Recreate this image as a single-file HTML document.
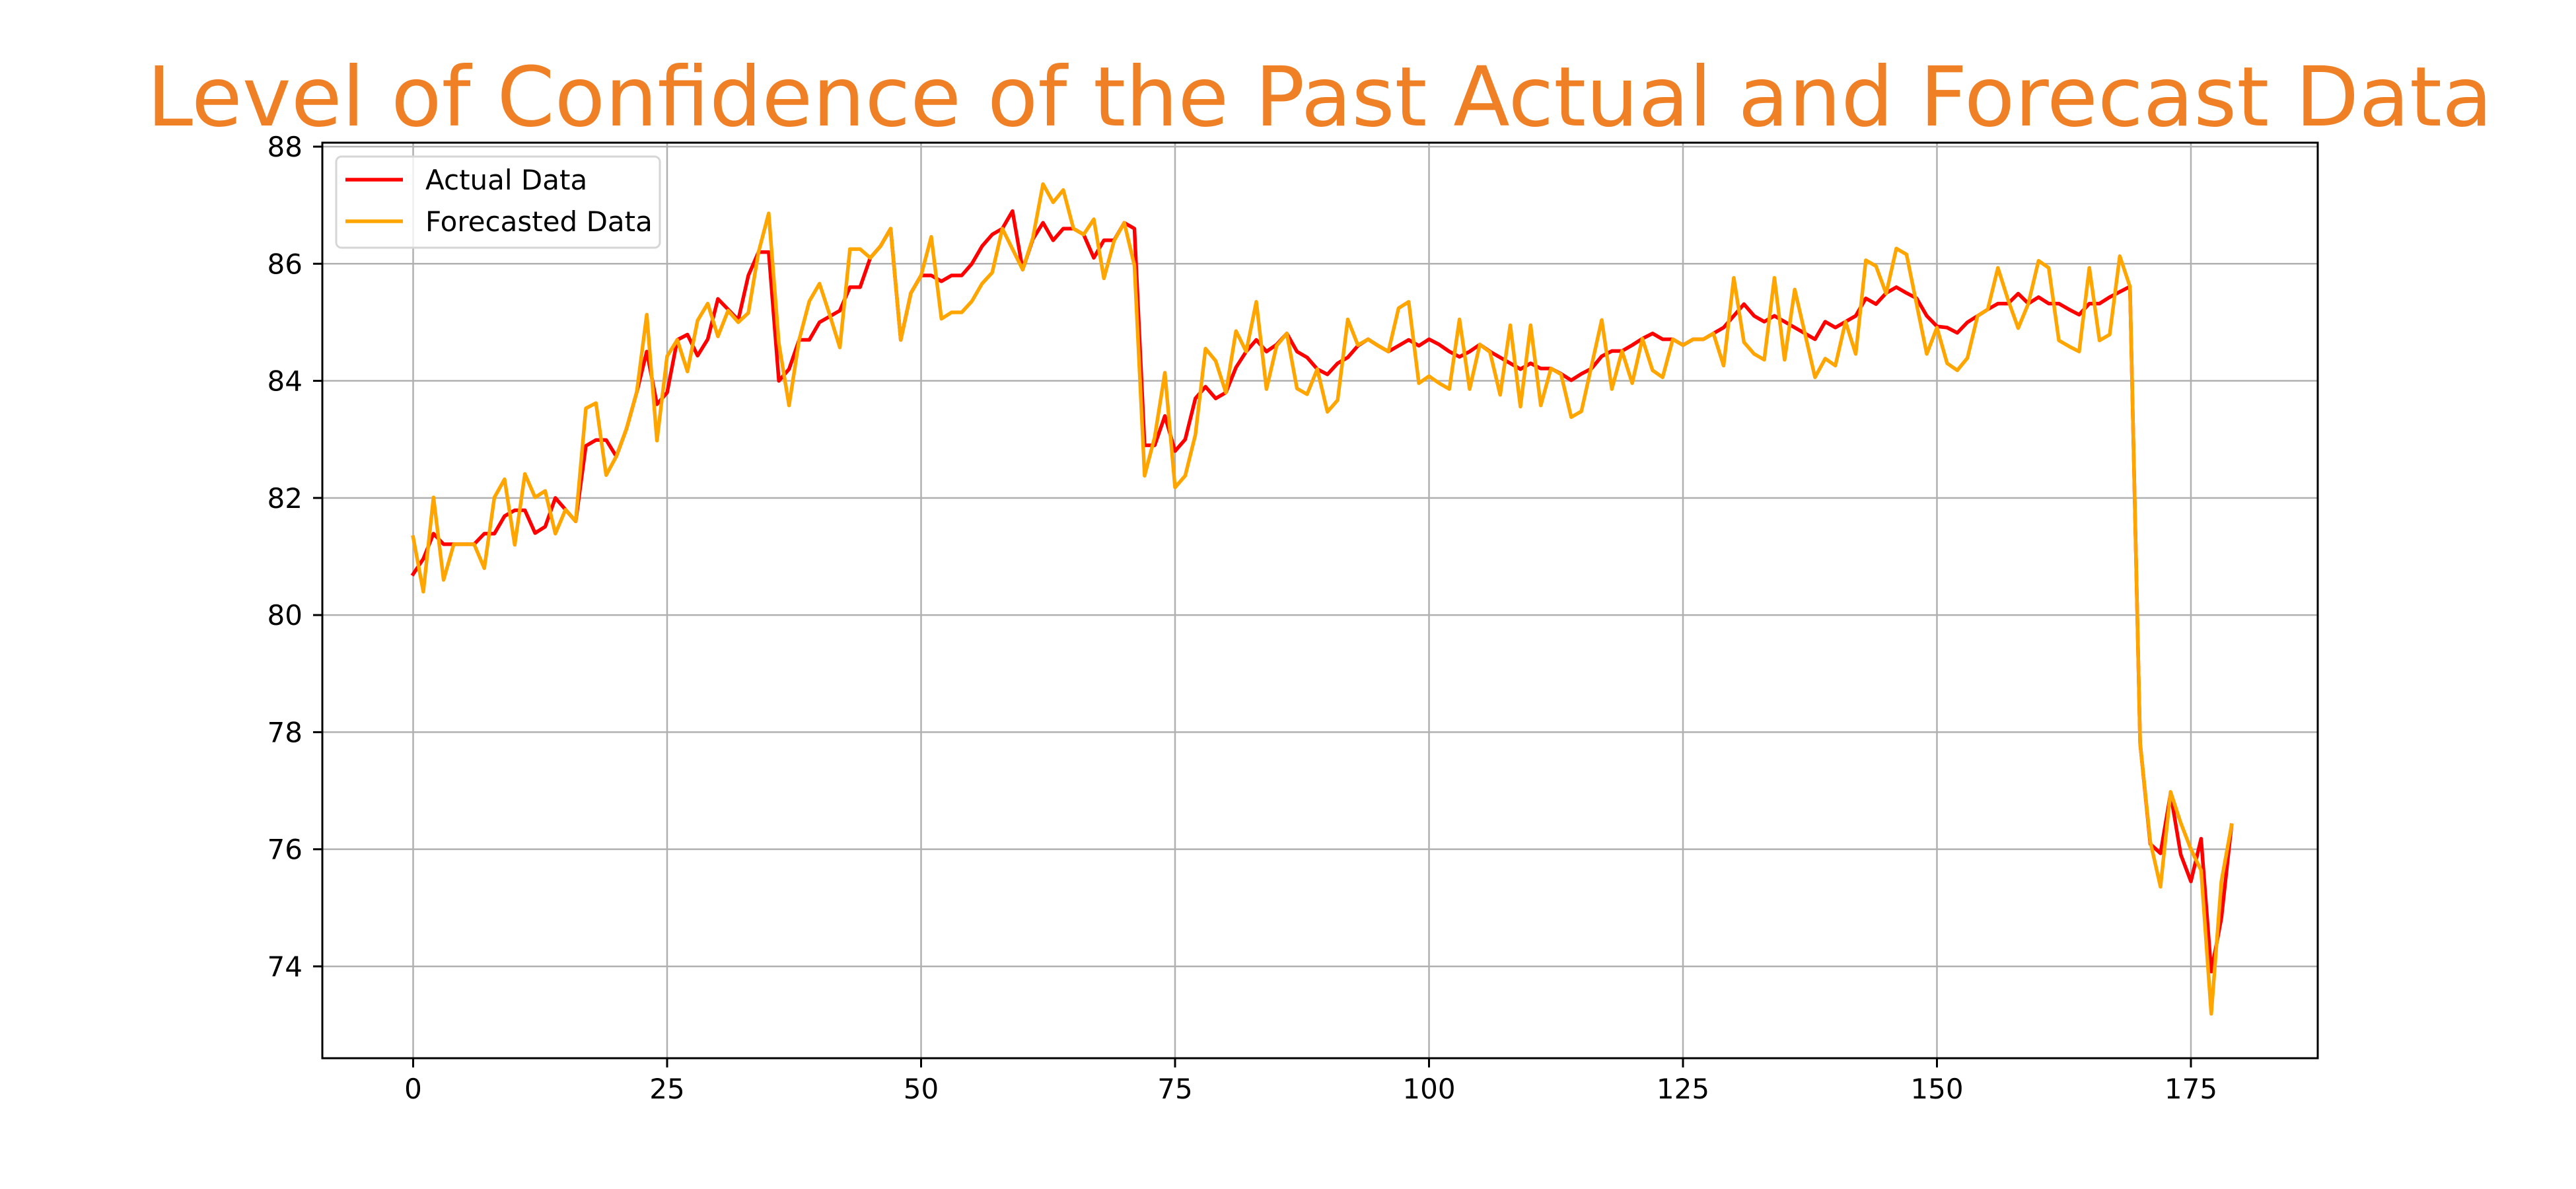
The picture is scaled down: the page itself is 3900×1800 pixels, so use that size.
<!DOCTYPE html>
<html><head><meta charset="utf-8"><style>html,body{margin:0;padding:0;background:#fff}svg{display:block}</style></head>
<body>
<svg id="chart" width="3900" height="1800" viewBox="0 0 3900 1800" xmlns="http://www.w3.org/2000/svg" font-family="'DejaVu Sans','Liberation Sans',sans-serif">
<rect width="3900" height="1800" fill="#fff"/>
<text x="1998" y="190" text-anchor="middle" font-size="125" fill="#F08026">Level of Confidence of the Past Actual and Forecast Data</text>
<g id="grid"></g>
<g id="series"></g>
<rect x="488" y="216" width="3021" height="1386" fill="none" stroke="#000" stroke-width="3"/>
<g id="ticks"></g>
<g>
<rect x="509" y="237" width="490" height="138" rx="8" fill="#fff" fill-opacity="0.8" stroke="#d6d6d6" stroke-width="3"/>
<g><line x1="523" y1="272" x2="610" y2="272" stroke="#ff0000" stroke-width="5.5"/><text x="644" y="287" font-size="42">Actual Data</text></g>
<g><line x1="523" y1="335" x2="610" y2="335" stroke="#ffa500" stroke-width="5.5"/><text x="644" y="350" font-size="42">Forecasted Data</text></g>
</g>
</svg>
<script>
const xTicks = [0, 25, 50, 75, 100, 125, 150, 175];
const yTicks = [74, 76, 78, 80, 82, 84, 86, 88];
const actual = [80.7,80.96,81.39,81.21,81.21,81.21,81.21,81.39,81.39,81.69,81.79,81.79,81.4,81.51,82.0,81.8,81.6,82.89,82.99,82.99,82.71,83.18,83.8,84.5,83.6,83.8,84.7,84.79,84.43,84.71,85.4,85.22,85.04,85.8,86.2,86.2,84.0,84.2,84.7,84.7,85.0,85.1,85.2,85.6,85.6,86.1,86.3,86.6,84.7,85.5,85.8,85.8,85.7,85.8,85.8,86.0,86.3,86.5,86.6,86.9,85.9,86.42,86.7,86.4,86.6,86.6,86.5,86.1,86.4,86.4,86.7,86.6,82.9,82.9,83.4,82.8,83.0,83.7,83.9,83.7,83.8,84.23,84.5,84.7,84.5,84.62,84.81,84.5,84.4,84.2,84.11,84.3,84.4,84.6,84.71,84.6,84.5,84.6,84.7,84.6,84.71,84.62,84.5,84.41,84.5,84.62,84.5,84.4,84.3,84.2,84.3,84.21,84.21,84.12,84.01,84.12,84.21,84.42,84.51,84.51,84.61,84.72,84.81,84.71,84.71,84.61,84.71,84.71,84.81,84.91,85.11,85.31,85.11,85.01,85.11,85.01,84.91,84.81,84.71,85.01,84.91,85.01,85.11,85.41,85.31,85.5,85.6,85.5,85.41,85.11,84.93,84.91,84.82,85.0,85.11,85.22,85.32,85.32,85.49,85.32,85.43,85.32,85.32,85.22,85.13,85.32,85.32,85.43,85.52,85.61,77.81,76.09,75.93,76.95,75.91,75.45,76.18,73.91,74.82,76.41];
const forecast = [81.33,80.4,82.01,80.6,81.21,81.21,81.21,80.8,82.01,82.32,81.2,82.41,82.01,82.12,81.39,81.8,81.6,83.53,83.62,82.39,82.71,83.18,83.8,85.13,82.98,84.42,84.7,84.16,85.03,85.32,84.76,85.2,85.0,85.16,86.2,86.86,84.64,83.58,84.7,85.36,85.66,85.13,84.57,86.25,86.25,86.1,86.3,86.6,84.7,85.5,85.8,86.46,85.06,85.17,85.17,85.36,85.66,85.85,86.6,86.25,85.9,86.44,87.36,87.05,87.26,86.6,86.5,86.76,85.75,86.39,86.7,85.97,82.38,83.04,84.14,82.18,82.38,83.08,84.55,84.34,83.8,84.85,84.5,85.35,83.86,84.6,84.81,83.87,83.77,84.2,83.47,83.67,85.05,84.61,84.71,84.6,84.5,85.24,85.35,83.96,84.08,83.96,83.86,85.05,83.86,84.62,84.49,83.76,84.95,83.56,84.95,83.58,84.21,84.11,83.38,83.48,84.26,85.04,83.86,84.51,83.96,84.72,84.18,84.06,84.71,84.61,84.71,84.71,84.81,84.26,85.76,84.66,84.46,84.36,85.76,84.36,85.56,84.81,84.06,84.38,84.26,85.01,84.46,86.06,85.96,85.49,86.26,86.16,85.31,84.46,84.91,84.3,84.18,84.39,85.11,85.22,85.93,85.38,84.9,85.32,86.05,85.93,84.69,84.59,84.5,85.93,84.69,84.79,86.13,85.61,77.81,76.13,75.36,76.98,76.45,76.0,75.64,73.19,75.45,76.41];

const NS = 'http://www.w3.org/2000/svg';
const X0 = 625.5, XS = 15.38, Y88 = 222, YS = 88.64;
function sx(v) { return X0 + v * XS; }
function sy(v) { return Y88 + (88 - v) * YS; }
function mk(tag, attrs, parent) {
  const e = document.createElementNS(NS, tag);
  for (const k in attrs) e.setAttribute(k, attrs[k]);
  parent.appendChild(e);
  return e;
}
const grid = document.getElementById('grid');
const ticks = document.getElementById('ticks');
const series = document.getElementById('series');
xTicks.forEach(t => {
  const g = mk('line', {x1: sx(t), x2: sx(t), y1: 216, y2: 1602, stroke: '#b0b0b0', 'stroke-width': 2.5}, grid);
  
  
  const tk = mk('line', {x1: sx(t), x2: sx(t), y1: 1602, y2: 1616, stroke: '#000', 'stroke-width': 3}, ticks);
  
  
  const lb = mk('text', {x: sx(t), y: 1663, 'text-anchor': 'middle', 'font-size': 42, fill: '#000'}, ticks);
  lb.textContent = t;
  
  
});
yTicks.forEach(t => {
  const g = mk('line', {x1: 488, x2: 3509, y1: sy(t), y2: sy(t), stroke: '#b0b0b0', 'stroke-width': 2.5}, grid);
  
  
  const tk = mk('line', {x1: 474, x2: 488, y1: sy(t), y2: sy(t), stroke: '#000', 'stroke-width': 3}, ticks);
  
  
  const lb = mk('text', {x: 458, y: sy(t) + 15, 'text-anchor': 'end', 'font-size': 42, fill: '#000'}, ticks);
  lb.textContent = t;
  
  
});
function drawLine(vals, color, name) {
  const pts = vals.map((v, i) => sx(i).toFixed(1) + ',' + sy(v).toFixed(1)).join(' ');
  const p = mk('polyline', {points: pts, fill: 'none', stroke: color, 'stroke-width': 5.5, 'stroke-linejoin': 'round', 'stroke-linecap': 'square'}, series);
  
  
}
drawLine(actual, '#ff0000', 'actual-data-line');
drawLine(forecast, '#ffa500', 'forecasted-data-line');
</script>
</body></html>
